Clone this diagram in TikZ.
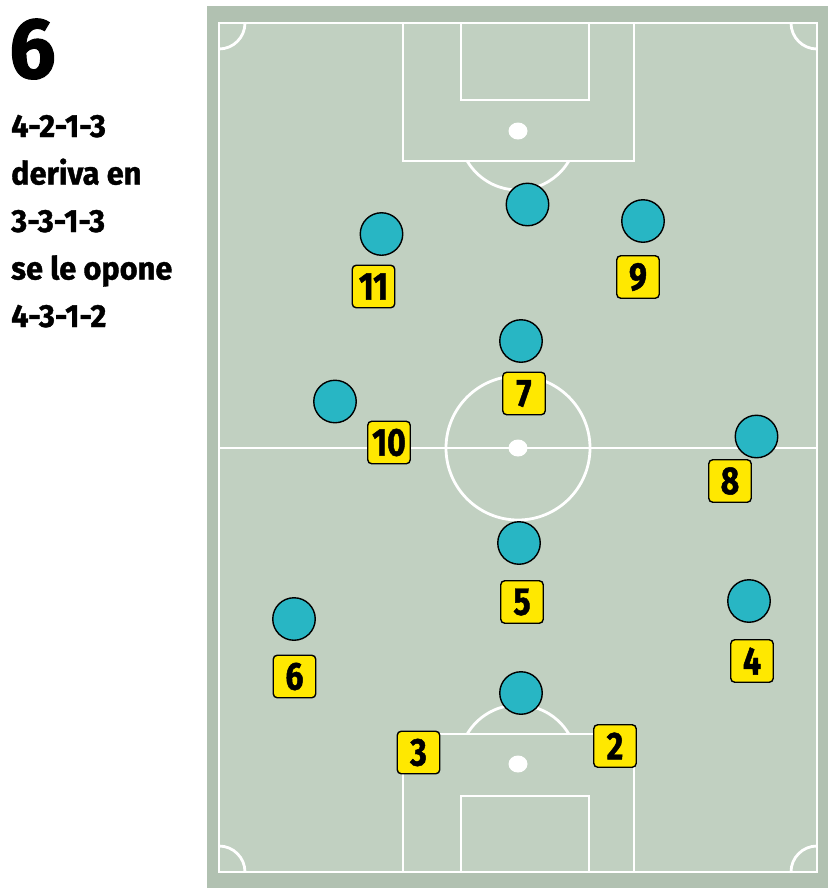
\documentclass[tikz,border=0pt]{standalone}
\usepackage{fontspec}
\usepackage{tikz}
\usetikzlibrary{positioning}
\newfontfamily\boardFont{Fira Sans}[FakeBold=1.2, FakeStretch=0.96]
\newfontfamily\tagFont{Fira Sans}[FakeStretch=0.82, FakeBold=1.2]
\definecolor{pitchColor}{RGB}{193,208,193}
\definecolor{borderColor}{RGB}{177,193,177}
\definecolor{playerColor}{RGB}{40,182,196}
\definecolor{tagColor}{RGB}{255,232,0}
\tikzstyle{board} = [x = 1pt, y = -1pt]
\tikzstyle{pitchLine} = [color=white, line width=2.8pt]
\tikzstyle{playerStyle} = [circle, draw=black, fill=playerColor, line width=1.4pt, minimum size=42.5pt, inner sep=0pt]
\tikzstyle{tagStyle} = [draw=black, fill=tagColor, line width=1.4pt, rounded corners=4pt, minimum width=42.5pt, minimum height=42.5pt, inner sep=0pt, font=\tagFont\bfseries\fontsize{39}{39}\selectfont]
\tikzstyle{captionText} = [anchor=base west, inner sep=0pt, font=\boardFont\bfseries\fontsize{32}{32}\selectfont]
\tikzstyle{bigNumber} = [anchor=base west, inner sep=0pt, font=\boardFont\bfseries\fontsize{86}{86}\selectfont]
\newcommand{\cornerArc}[3]{\draw [pitchLine] (#1) ++(#2:26) arc [start angle=#2, end angle=#3, radius=26];}
\newcommand{\penaltyArc}[3]{\draw [pitchLine] (#1) ++(#2:59) arc [start angle=#2, end angle=#3, radius=59];}
\newcommand{\playerDot}[2]{\node [playerStyle] (#1) at (#2) {};}
\newcommand{\numberTag}[3]{\node [tagStyle] (#1) at (#2) {#3};}

\begin{document}
\begin{tikzpicture}[board]
  \useasboundingbox (0,0) rectangle (833,895);
  \fill [white] (0,0) rectangle (833,895);

  % caption
  \node [bigNumber] (schemeNo) at (9,78) {6};
  \foreach \txt [count=\i] in {4-2-1-3, deriva en, 3-3-1-3, se le opone, 4-3-1-2}
    \node [captionText] (line\i) at (11, 137 + 47.5 * \i - 47.5) {\txt};

  % pitch
  \fill [borderColor] (207,6) rectangle (828,888);
  \fill [pitchColor] (219,23) rectangle (817,872);
  \draw [pitchLine] (219,23) rectangle (817,872);
  \draw [pitchLine] (219,448) -- (817,448);
  \draw [pitchLine] (518,448) circle [radius=72];
  \fill [white] (518,448) ellipse [x radius=9.5, y radius=8.5];
  \draw [pitchLine] (403,23) rectangle (634,161);
  \draw [pitchLine] (461,23) rectangle (589,100);
  \fill [white] (518,131) ellipse [x radius=9.5, y radius=8.5];
  \penaltyArc{518,131}{30.6}{149.4}
  \draw [pitchLine] (403,734) rectangle (634,872);
  \draw [pitchLine] (461,796) rectangle (589,872);
  \fill [white] (518,764) ellipse [x radius=9.5, y radius=8.5];
  \penaltyArc{518,764}{-30.6}{-149.4}
  \cornerArc{219,23}{0}{90}
  \cornerArc{817,23}{90}{180}
  \cornerArc{219,872}{-90}{0}
  \cornerArc{817,872}{180}{270}

  % players
  \playerDot{keeperTop}{527.5,204.5}
  \playerDot{rivalA}{381.5,234}
  \playerDot{rivalB}{643,221}
  \playerDot{rivalC}{521,341}
  \playerDot{rivalD}{335,401.5}
  \playerDot{rivalE}{756.5,436.5}
  \playerDot{rivalF}{519,543}
  \playerDot{rivalG}{294,619}
  \playerDot{rivalH}{749,601}
  \playerDot{rivalI}{521,693}

  % numbers
  \numberTag{tagEleven}{373.5,286.5}{11}
  \numberTag{tagNine}{638,277}{9}
  \numberTag{tagSeven}{524,393.5}{7}
  \numberTag{tagTen}{389,442.5}{10}
  \numberTag{tagEight}{730,481}{8}
  \numberTag{tagFive}{522,602}{5}
  \numberTag{tagSix}{294.5,676.5}{6}
  \numberTag{tagFour}{752,661}{4}
  \numberTag{tagThree}{418.5,752.5}{3}
  \numberTag{tagTwo}{615,746}{2}
\end{tikzpicture}
\end{document}
